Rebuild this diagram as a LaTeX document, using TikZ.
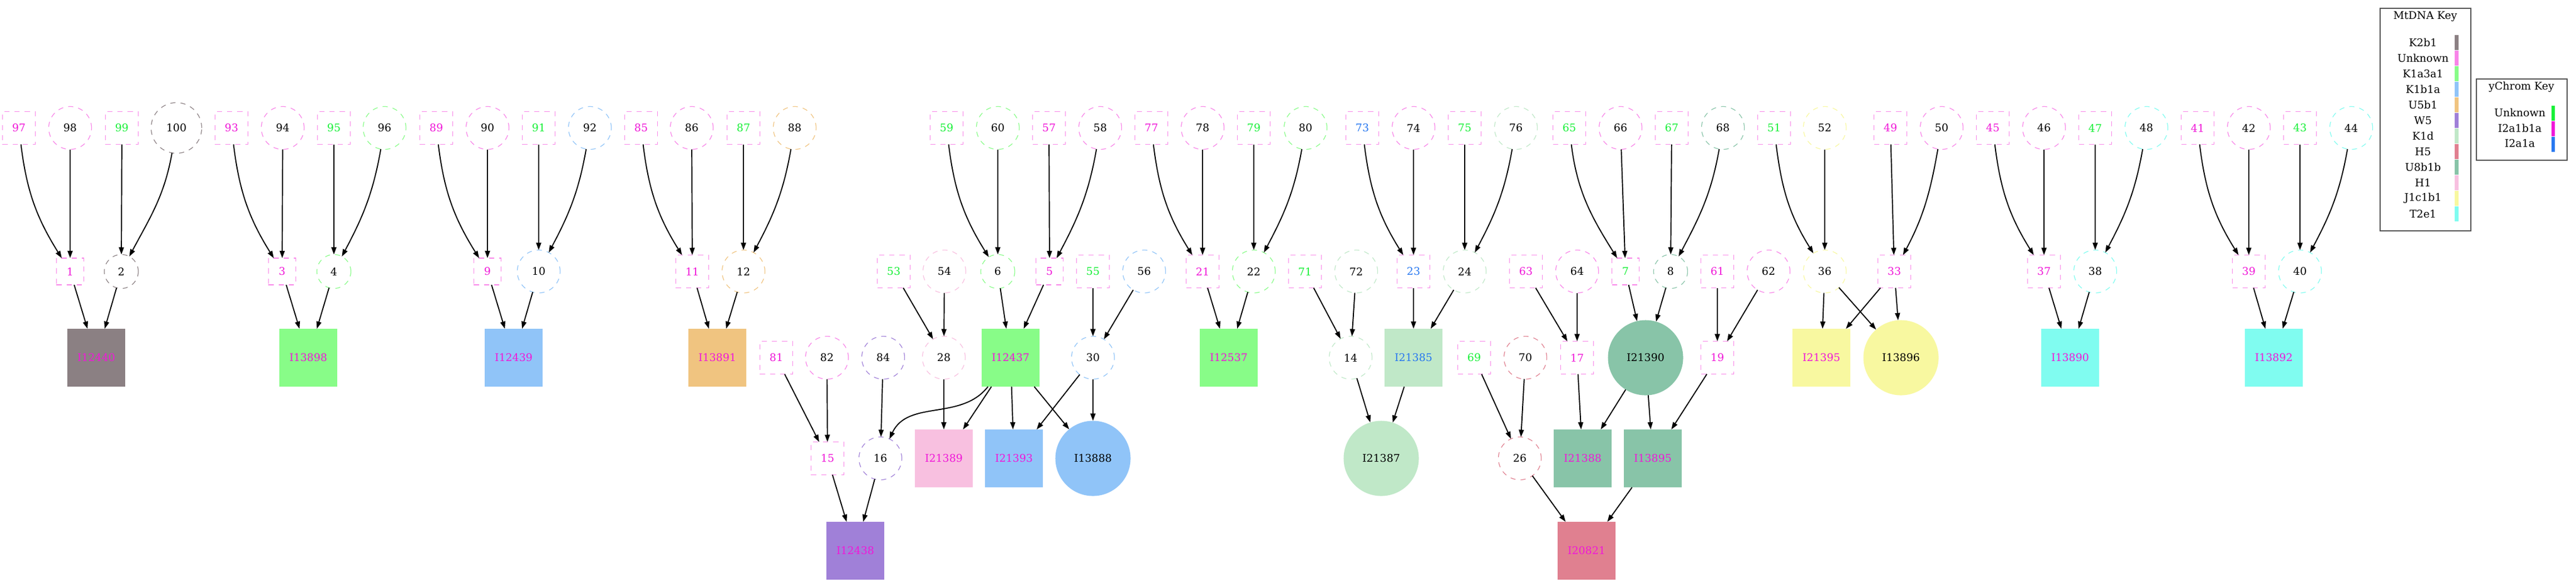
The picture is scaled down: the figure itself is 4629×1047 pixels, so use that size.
\documentclass[tikz,border=0pt]{standalone}
\usepackage{fontspec}
\setmainfont{DejaVu Serif}
\usetikzlibrary{arrows.meta}
\definecolor{mK2}{HTML}{8B8083}
\definecolor{mU}{HTML}{F884E8}
\definecolor{mKa}{HTML}{88FC88}
\definecolor{mKb}{HTML}{90C4F8}
\definecolor{mUf}{HTML}{F0C480}
\definecolor{mW}{HTML}{A080D8}
\definecolor{mKd}{HTML}{C0E8C8}
\definecolor{mH5}{HTML}{E08090}
\definecolor{mU8}{HTML}{88C4A8}
\definecolor{mH1}{HTML}{F8C0E0}
\definecolor{mJ}{HTML}{F8F8A0}
\definecolor{mT}{HTML}{80FCF0}
\definecolor{yU}{HTML}{18F038}
\definecolor{yI}{HTML}{F018D8}
\definecolor{yB}{HTML}{2878F0}
\definecolor{keyline}{HTML}{505050}
\newcommand\labfont{\fontsize{5.4pt}{6.5pt}\selectfont}
\tikzset{
  nd/.style={font=\labfont, inner sep=0pt, outer sep=0pt, line width=0.35pt, dash pattern=on 2.6pt off 2.6pt},
  sqB/.style={nd, rectangle, draw, minimum width=0.59cm, minimum height=0.59cm},
  sqS/.style={nd, rectangle, draw, minimum width=0.49cm, minimum height=0.48cm},
  ciB/.style={nd, circle, draw, minimum size=0.77cm},
  ciS/.style={nd, circle, draw, minimum size=0.61cm},
  ciT/.style={nd, circle, draw, minimum size=0.91cm},
  fb/.style={nd, rectangle, minimum size=1.04cm},
  fc/.style={nd, circle, minimum size=1.35cm},
  arr/.style={-{Triangle[length=0.13cm,width=0.09cm]}, line width=0.55pt, black, solid},
  curveL/.style={out=-83, in=122},
  curveR/.style={out=-100, in=62},
  keytxt/.style={font=\labfont, inner sep=0pt},
  keybox/.style={draw=keyline, line width=0.45pt}
}
\begin{document}
\begin{tikzpicture}[x=0.01cm, y=0.01cm]
\useasboundingbox (0,0) rectangle (4629,-1047);
\fill[white] (0,0) rectangle (4629,-1047);

% ---------- Row 1 ----------
\node[sqB, draw=mU, text=yI] (n97) at (34,-230) {97};
\node[ciB, draw=mU] (n98) at (126,-230) {98};
\node[sqB, draw=mU, text=yU] (n99) at (219,-230) {99};
\node[ciT, draw=mK2] (n100) at (317,-230) {100};
\node[sqB, draw=mU, text=yI] (n93) at (416,-230) {93};
\node[ciB, draw=mU] (n94) at (508,-230) {94};
\node[sqB, draw=mU, text=yU] (n95) at (600,-230) {95};
\node[ciB, draw=mKa] (n96) at (691,-230) {96};
\node[sqB, draw=mU, text=yI] (n89) at (784,-230) {89};
\node[ciB, draw=mU] (n90) at (876,-230) {90};
\node[sqB, draw=mU, text=yU] (n91) at (968,-230) {91};
\node[ciB, draw=mKb] (n92) at (1060,-230) {92};
\node[sqB, draw=mU, text=yI] (n85) at (1152,-230) {85};
\node[ciB, draw=mU] (n86) at (1243,-230) {86};
\node[sqB, draw=mU, text=yU] (n87) at (1336,-230) {87};
\node[ciB, draw=mUf] (n88) at (1428,-230) {88};
\node[sqB, draw=mU, text=yU] (n59) at (1701,-230) {59};
\node[ciB, draw=mKa] (n60) at (1793,-230) {60};
\node[sqB, draw=mU, text=yI] (n57) at (1885,-230) {57};
\node[ciB, draw=mU] (n58) at (1977,-230) {58};
\node[sqB, draw=mU, text=yI] (n77) at (2069,-230) {77};
\node[ciB, draw=mU] (n78) at (2161,-230) {78};
\node[sqB, draw=mU, text=yU] (n79) at (2253,-230) {79};
\node[ciB, draw=mKa] (n80) at (2346,-230) {80};
\node[sqB, draw=mU, text=yB] (n73) at (2448,-230) {73};
\node[ciB, draw=mU] (n74) at (2540,-230) {74};
\node[sqB, draw=mU, text=yU] (n75) at (2632,-230) {75};
\node[ciB, draw=mKd] (n76) at (2724,-230) {76};
\node[sqB, draw=mU, text=yU] (n65) at (2820,-230) {65};
\node[ciB, draw=mU] (n66) at (2912,-230) {66};
\node[sqB, draw=mU, text=yU] (n67) at (3004,-230) {67};
\node[ciB, draw=mU8] (n68) at (3096,-230) {68};
\node[sqB, draw=mU, text=yU] (n51) at (3188,-230) {51};
\node[ciB, draw=mJ] (n52) at (3279,-230) {52};
\node[sqB, draw=mU, text=yI] (n49) at (3397,-230) {49};
\node[ciB, draw=mU] (n50) at (3489,-230) {50};
\node[sqB, draw=mU, text=yI] (n45) at (3581,-230) {45};
\node[ciB, draw=mU] (n46) at (3673,-230) {46};
\node[sqB, draw=mU, text=yU] (n47) at (3765,-230) {47};
\node[ciB, draw=mT] (n48) at (3857,-230) {48};
\node[sqB, draw=mU, text=yI] (n41) at (3949,-230) {41};
\node[ciB, draw=mU] (n42) at (4041,-230) {42};
\node[sqB, draw=mU, text=yU] (n43) at (4133,-230) {43};
\node[ciB, draw=mT] (n44) at (4225,-230) {44};

% ---------- Row 2 ----------
\node[sqS, draw=mU, text=yI] (n1) at (126,-488) {1};
\node[ciS, draw=mK2] (n2) at (218,-488) {2};
\node[sqS, draw=mU, text=yI] (n3) at (507,-488) {3};
\node[ciS, draw=mKa] (n4) at (600,-488) {4};
\node[sqS, draw=mU, text=yI] (n9) at (876,-488) {9};
\node[ciB, draw=mKb] (n10) at (968,-488) {10};
\node[sqB, draw=mU, text=yI] (n11) at (1244,-488) {11};
\node[ciB, draw=mUf] (n12) at (1336,-488) {12};
\node[sqB, draw=mU, text=yU] (n53) at (1606,-488) {53};
\node[ciB, draw=mH1] (n54) at (1697,-488) {54};
\node[ciS, draw=mKa] (n6) at (1793,-488) {6};
\node[sqS, draw=mU, text=yI] (n5) at (1886,-488) {5};
\node[sqB, draw=mU, text=yU] (n55) at (1964,-488) {55};
\node[ciB, draw=mKb] (n56) at (2056,-488) {56};
\node[sqB, draw=mU, text=yI] (n21) at (2161,-488) {21};
\node[ciB, draw=mKa] (n22) at (2253,-488) {22};
\node[sqB, draw=mU, text=yU] (n71) at (2345,-488) {71};
\node[ciB, draw=mKd] (n72) at (2437,-488) {72};
\node[sqB, draw=mU, text=yB] (n23) at (2540,-488) {23};
\node[ciB, draw=mKd] (n24) at (2632,-488) {24};
\node[sqB, draw=mU, text=yI] (n63) at (2742,-488) {63};
\node[ciB, draw=mU] (n64) at (2834,-488) {64};
\node[sqS, draw=mU, text=yU] (n7) at (2921,-488) {7};
\node[ciS, draw=mU8] (n8) at (3002,-488) {8};
\node[sqB, draw=mU, text=yI] (n61) at (3086,-488) {61};
\node[ciB, draw=mU] (n62) at (3178,-488) {62};
\node[ciB, draw=mJ] (n36) at (3279,-488) {36};
\node[sqB, draw=mU, text=yI] (n33) at (3404,-488) {33};
\node[sqB, draw=mU, text=yI] (n37) at (3673,-488) {37};
\node[ciB, draw=mT] (n38) at (3765,-488) {38};
\node[sqB, draw=mU, text=yI] (n39) at (4041,-488) {39};
\node[ciB, draw=mT] (n40) at (4133,-488) {40};

% ---------- Row 3 ----------
\node[fb, fill=mK2, text=yI] (nI12440) at (173,-643) {I12440};
\node[fb, fill=mKa, text=yI] (nI13898) at (554,-643) {I13898};
\node[fb, fill=mKb, text=yI] (nI12439) at (923,-643) {I12439};
\node[fb, fill=mUf, text=yI] (nI13891) at (1289,-643) {I13891};
\node[sqB, draw=mU, text=yI] (n81) at (1395,-643) {81};
\node[ciB, draw=mU] (n82) at (1486,-643) {82};
\node[ciB, draw=mW] (n84) at (1587,-643) {84};
\node[ciB, draw=mH1] (n28) at (1696,-643) {28};
\node[fb, fill=mKa, text=yI] (nI12437) at (1816,-643) {I12437};
\node[ciB, draw=mKb] (n30) at (1964,-643) {30};
\node[fb, fill=mKa, text=yI] (nI12537) at (2208,-643) {I12537};
\node[ciB, draw=mKd] (n14) at (2427,-643) {14};
\node[fb, fill=mKd, text=yB] (nI21385) at (2540,-643) {I21385};
\node[sqB, draw=mU, text=yU] (n69) at (2649,-643) {69};
\node[ciB, draw=mH5] (n70) at (2741,-643) {70};
\node[sqB, draw=mU, text=yI] (n17) at (2834,-643) {17};
\node[fc, fill=mU8] (nI21390) at (2957,-643) {I21390};
\node[sqB, draw=mU, text=yI] (n19) at (3086,-643) {19};
\node[fb, fill=mJ, text=yI] (nI21395) at (3273,-643) {I21395};
\node[fc, fill=mJ] (nI13896) at (3416,-643) {I13896};
\node[fb, fill=mT, text=yI] (nI13890) at (3720,-643) {I13890};
\node[fb, fill=mT, text=yI] (nI13892) at (4086,-643) {I13892};

% ---------- Row 4 ----------
\node[sqB, draw=mU, text=yI] (n15) at (1487,-824) {15};
\node[ciB, draw=mW] (n16) at (1582,-824) {16};
\node[fb, fill=mH1, text=yI] (nI21389) at (1696,-824) {I21389};
\node[fb, fill=mKb, text=yI] (nI21393) at (1822,-824) {I21393};
\node[fc, fill=mKb] (nI13888) at (1964,-824) {I13888};
\node[fc, fill=mKd] (nI21387) at (2482,-824) {I21387};
\node[ciB, draw=mH5] (n26) at (2731,-824) {26};
\node[fb, fill=mU8, text=yI] (nI21388) at (2844,-824) {I21388};
\node[fb, fill=mU8, text=yI] (nI13895) at (2970,-824) {I13895};

% ---------- Row 5 ----------
\node[fb, fill=mW, text=yI] (nI12438) at (1537,-990) {I12438};
\node[fb, fill=mH5, text=yI] (nI20821) at (2851,-990) {I20821};

% ---------- Edges ----------
\draw[arr] (n97) to[curveL] (n1);
\draw[arr] (n98) -- (n1);
\draw[arr] (n99) -- (n2);
\draw[arr] (n100) to[curveR] (n2);
\draw[arr] (n1) -- (nI12440);
\draw[arr] (n2) -- (nI12440);

\draw[arr] (n93) to[curveL] (n3);
\draw[arr] (n94) -- (n3);
\draw[arr] (n95) -- (n4);
\draw[arr] (n96) to[curveR] (n4);
\draw[arr] (n3) -- (nI13898);
\draw[arr] (n4) -- (nI13898);

\draw[arr] (n89) to[curveL] (n9);
\draw[arr] (n90) -- (n9);
\draw[arr] (n91) -- (n10);
\draw[arr] (n92) to[curveR] (n10);
\draw[arr] (n9) -- (nI12439);
\draw[arr] (n10) -- (nI12439);

\draw[arr] (n85) to[curveL] (n11);
\draw[arr] (n86) -- (n11);
\draw[arr] (n87) -- (n12);
\draw[arr] (n88) to[curveR] (n12);
\draw[arr] (n11) -- (nI13891);
\draw[arr] (n12) -- (nI13891);

\draw[arr] (n59) to[curveL] (n6);
\draw[arr] (n60) -- (n6);
\draw[arr] (n57) -- (n5);
\draw[arr] (n58) to[curveR] (n5);
\draw[arr] (n6) -- (nI12437);
\draw[arr] (n5) -- (nI12437);
\draw[arr] (n53) -- (n28);
\draw[arr] (n54) -- (n28);
\draw[arr] (n55) -- (n30);
\draw[arr] (n56) -- (n30);
\draw[arr] (n81) -- (n15);
\draw[arr] (n82) -- (n15);
\draw[arr] (n84) -- (n16);
\draw[arr] (nI12437) to[out=-128, in=65] (n16);
\draw[arr] (n15) -- (nI12438);
\draw[arr] (n16) -- (nI12438);
\draw[arr] (n28) -- (nI21389);
\draw[arr] (nI12437) -- (nI21389);
\draw[arr] (nI12437) -- (nI21393);
\draw[arr] (n30) -- (nI21393);
\draw[arr] (nI12437) -- (nI13888);
\draw[arr] (n30) -- (nI13888);

\draw[arr] (n77) to[curveL] (n21);
\draw[arr] (n78) -- (n21);
\draw[arr] (n79) -- (n22);
\draw[arr] (n80) to[curveR] (n22);
\draw[arr] (n21) -- (nI12537);
\draw[arr] (n22) -- (nI12537);

\draw[arr] (n73) to[curveL] (n23);
\draw[arr] (n74) -- (n23);
\draw[arr] (n75) -- (n24);
\draw[arr] (n76) to[curveR] (n24);
\draw[arr] (n23) -- (nI21385);
\draw[arr] (n24) -- (nI21385);
\draw[arr] (n71) -- (n14);
\draw[arr] (n72) -- (n14);
\draw[arr] (n14) -- (nI21387);
\draw[arr] (nI21385) -- (nI21387);

\draw[arr] (n65) to[curveL] (n7);
\draw[arr] (n66) -- (n7);
\draw[arr] (n67) -- (n8);
\draw[arr] (n68) to[curveR] (n8);
\draw[arr] (n7) -- (nI21390);
\draw[arr] (n8) -- (nI21390);
\draw[arr] (n63) -- (n17);
\draw[arr] (n64) -- (n17);
\draw[arr] (n61) -- (n19);
\draw[arr] (n62) -- (n19);
\draw[arr] (n69) -- (n26);
\draw[arr] (n70) -- (n26);
\draw[arr] (n17) -- (nI21388);
\draw[arr] (nI21390) -- (nI21388);
\draw[arr] (nI21390) -- (nI13895);
\draw[arr] (n19) -- (nI13895);
\draw[arr] (n26) -- (nI20821);
\draw[arr] (nI13895) -- (nI20821);

\draw[arr] (n51) to[curveL] (n36);
\draw[arr] (n52) -- (n36);
\draw[arr] (n49) -- (n33);
\draw[arr] (n50) to[curveR] (n33);
\draw[arr] (n36) -- (nI21395);
\draw[arr] (n33) -- (nI21395);
\draw[arr] (n36) -- (nI13896);
\draw[arr] (n33) -- (nI13896);

\draw[arr] (n45) to[curveL] (n37);
\draw[arr] (n46) -- (n37);
\draw[arr] (n47) -- (n38);
\draw[arr] (n48) to[curveR] (n38);
\draw[arr] (n37) -- (nI13890);
\draw[arr] (n38) -- (nI13890);

\draw[arr] (n41) to[curveL] (n39);
\draw[arr] (n42) -- (n39);
\draw[arr] (n43) -- (n40);
\draw[arr] (n44) to[curveR] (n40);
\draw[arr] (n39) -- (nI13892);
\draw[arr] (n40) -- (nI13892);

% ---------- MtDNA key ----------
\draw[keybox] (4277,-15) rectangle (4440,-415);
\node[keytxt] (kmt) at (4358,-30) {MtDNA Key};
\foreach \lab/\col [count=\i from 0] in {K2b1/mK2, Unknown/mU, K1a3a1/mKa, K1b1a/mKb, U5b1/mUf, W5/mW, K1d/mKd, H5/mH5, U8b1b/mU8, H1/mH1, J1c1b1/mJ, T2e1/mT}{
  \node[keytxt] (km\i) at (4354,{-76.5-28*\i}) {\lab};
  \fill[\col] (4411,{-63-28*\i}) rectangle (4418,{-90-28*\i});
}

% ---------- yChrom key ----------
\draw[keybox] (4450,-142) rectangle (4613,-288);
\node[keytxt] (kyc) at (4531,-156) {yChrom Key};
\foreach \lab/\col [count=\i from 0] in {Unknown/yU, I2a1b1a/yI, I2a1a/yB}{
  \node[keytxt] (ky\i) at (4528,{-202-28*\i}) {\lab};
  \fill[\col] (4585,{-190-28*\i}) rectangle (4591,{-217-28*\i});
}
\end{tikzpicture}
\end{document}
